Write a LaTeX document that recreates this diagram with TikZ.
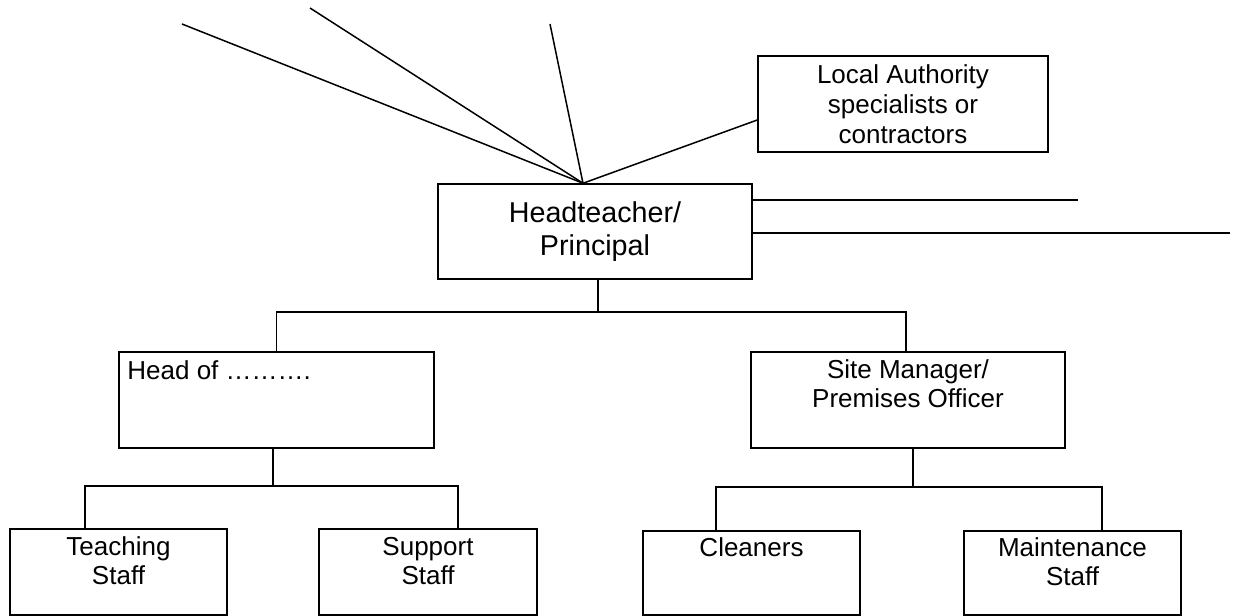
\documentclass[tikz,border=0pt]{standalone}
\usepackage{fontspec}
\setmainfont{Liberation Sans}
\begin{document}
\begin{tikzpicture}[x=1pt,y=-1pt,
  box/.style={draw, line width=1.5pt, inner sep=0pt, rectangle},
  txt/.style={font=\fontsize{26}{29.5}\selectfont, align=center, inner sep=0pt},
  conn/.style={line width=1.5pt},
  thickconn/.style={line width=2.4pt}]
\useasboundingbox (0,0) rectangle (1235,616);

% boxes
\node[box, minimum width=314pt, minimum height=95pt, align=center,
      font=\fontsize{28.7}{32.5}\selectfont] (ht) at (595,231.5) {Headteacher/\\Principal};
\node[box, minimum width=290pt, minimum height=96pt, align=center,
      font=\fontsize{26}{30}\selectfont] (la) at (903,104) {Local Authority\\specialists or\\contractors};
\node[box, minimum width=315pt, minimum height=96pt,
      label={[txt, anchor=north west, xshift=9pt, yshift=-9pt]north west:Head of ……….}] (hof) at (276.5,400) {};
\node[box, minimum width=314pt, minimum height=96pt,
      label={[txt, anchor=north, yshift=-8pt]north:Site Manager/\\Premises Officer}] (site) at (908,400) {};
\node[box, minimum width=217pt, minimum height=86pt,
      label={[txt, anchor=north, yshift=-8pt]north:Teaching\\Staff}] (teach) at (118.5,572) {};
\node[box, minimum width=218pt, minimum height=86pt,
      label={[txt, anchor=north, yshift=-8.5pt]north:Support\\Staff}] (sup) at (428,572) {};
\node[box, minimum width=217pt, minimum height=84pt,
      label={[txt, anchor=north, yshift=-7pt]north:Cleaners}] (clean) at (751.5,573) {};
\node[box, minimum width=217pt, minimum height=84pt,
      label={[txt, anchor=north, yshift=-7pt]north:Maintenance\\Staff}] (maint) at (1072.5,573) {};

% fan of lines above the headteacher
\coordinate (apex) at ([xshift=-12pt]ht.north);
\coordinate (f1) at (182,24);
\coordinate (f2) at (310,8);
\coordinate (f3) at (550,24);
\draw[conn] (apex) -- (f1);
\draw[conn] (apex) -- (f2);
\draw[conn] (apex) -- (f3);
\draw[conn] (apex) -- ([yshift=-16pt]la.west);

% lines to the right
\coordinate (e1) at (1078,200);
\coordinate (e2) at (1230,233);
\draw[conn] (ht.east |- e1) -- (e1);
\draw[conn] (ht.east |- e2) -- (e2);

% first level of the tree
\coordinate (b1) at (598,312);
\coordinate (t1) at (422,312);
\coordinate (t2) at (706,312);
\draw[conn] ([xshift=3pt]ht.south) -- (b1);
\draw[conn] (hof.north) |- (b1) -| ([xshift=-2pt]site.north);
\draw[thickconn] (t1) -- (t2);

% left branch
\coordinate (b2) at (273,486);
\draw[conn] ([xshift=-3.5pt]hof.south) -- (b2);
\draw[conn] ([xshift=-33.5pt]teach.north) |- (b2) -| ([xshift=30pt]sup.north);

% right branch
\coordinate (b3) at (913,487);
\draw[conn] ([xshift=5pt]site.south) -- (b3);
\draw[conn] ([xshift=-35.5pt]clean.north) |- (b3) -| ([xshift=29.5pt]maint.north);
\end{tikzpicture}
\end{document}
